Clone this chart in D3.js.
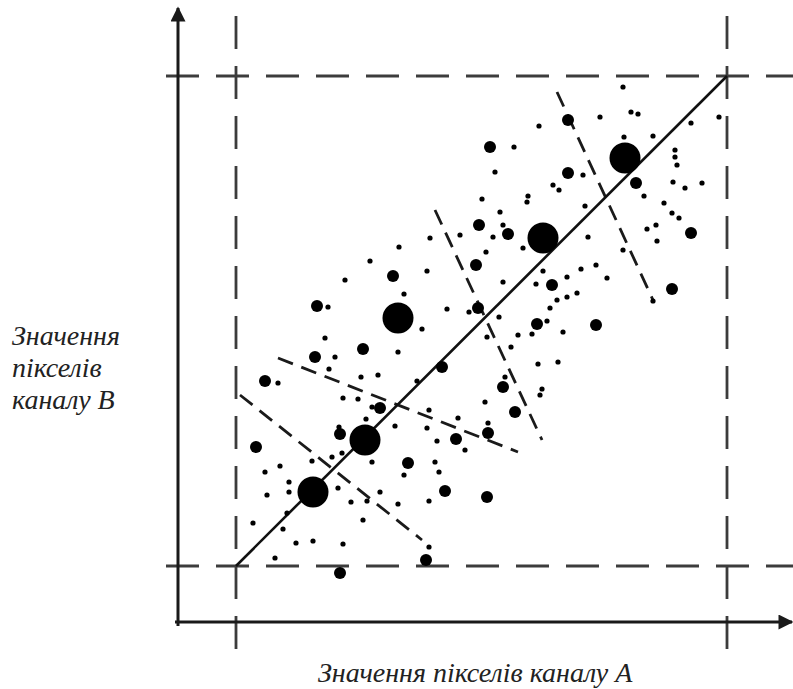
<!DOCTYPE html>
<html>
<head>
<meta charset="utf-8">
<script src="https://cdn.jsdelivr.net/npm/d3@7"></script>
<style>
  body { margin: 0; background: #fff; }
  svg { display: block; }
</style>
</head>
<body>
<script>
const WIDTH = 793;
const HEIGHT = 689;

// channel value range shown by the guide lines
const RANGE_A = [0, 491];
const RANGE_B = [0, 490];

// cluster centres (large dots)
const bigPoints = [[77,74],[129,126],[162,248],[307,328],[389,408]];

// medium dots
const midPoints = [
  [254,419],[243,341],[272,332],[240,301],[157,290],[81,260],[242,258],[332,446],
  [332,393],[400,383],[455,333],[316,281],[436,277],[127,217],[79,209],[206,199],
  [29,185],[267,179],[144,158],[279,154],[104,132],[252,133],[220,127],[20,119],
  [172,103],[209,75],[251,69],[190,6],[104,-7],[301,242],[360,241]
];

// small dots
const smallPoints = [
  [278,419],[259,394],[246,367],[291,364],[292,370],[264,354],[224,331],[257,329],
  [267,341],[194,328],[163,319],[287,318],[250,314],[134,305],[191,295],[109,286],
  [267,284],[168,272],[92,259],[211,257],[233,254],[387,479],[364,449],[303,440],
  [395,454],[402,452],[455,443],[483,449],[388,429],[417,430],[439,416],[439,409],
  [441,401],[347,391],[437,384],[449,378],[466,383],[317,381],[323,376],[408,370],
  [428,363],[349,360],[436,353],[443,348],[411,337],[420,341],[421,325],[352,329],
  [387,316],[360,301],[345,297],[307,295],[371,288],[331,289],[300,282],[341,273],
  [331,269],[321,266],[314,258],[417,265],[263,249],[186,237],[89,228],[162,214],
  [251,229],[282,231],[275,219],[99,209],[93,197],[125,189],[142,191],[42,183],
  [181,185],[311,245],[296,232],[327,234],[302,202],[322,204],[269,189],[306,177],
  [304,171],[107,168],[122,167],[249,164],[136,159],[193,156],[130,147],[222,148],
  [159,140],[103,139],[191,138],[252,143],[201,125],[229,116],[76,105],[96,109],
  [106,113],[136,104],[199,104],[29,94],[44,100],[168,91],[203,94],[53,84],
  [53,74],[102,78],[31,71],[144,74],[115,64],[131,65],[162,62],[193,65],
  [51,53],[17,43],[47,37],[127,46],[60,23],[77,25],[107,22],[193,19],[39,8]
];

// dashed separators between clusters: [x1, y1, x2, y2]
const separators = [
  [4,171,186,26],
  [42,208,282,114],
  [199,356,306,126],
  [321,474,417,266]
];

const yLabelLines = ["Значення", "пікселів", "каналу В"];
const xLabel = "Значення пікселів каналу А";

const FONT = "'Liberation Serif', 'Times New Roman', Tinos, 'DejaVu Serif', serif";

const x = d3.scaleLinear().domain(RANGE_A).range([236, 727]);
const y = d3.scaleLinear().domain(RANGE_B).range([566, 76]);

const AXIS_X = 178;   // pixel column of vertical axis
const AXIS_Y = 622;   // pixel row of horizontal axis

const svg = d3.select("body")
              .append("svg")
              .attr("width", WIDTH)
              .attr("height", HEIGHT);

svg.append("defs")
   .append("marker")
   .attr("id", "arrow")
   .attr("viewBox", "0 0 10 10")
   .attr("refX", 9)
   .attr("refY", 5)
   .attr("markerWidth", 6)
   .attr("markerHeight", 5)
   .attr("markerUnits", "strokeWidth")
   .attr("orient", "auto")
   .append("path")
   .attr("d", "M0,0 L10,5 L0,10 Z")
   .attr("fill", "#1a1a1a");

// guide dashed lines at range limits
const guides = svg.append("g")
                  .attr("stroke", "#3c3c3c")
                  .attr("stroke-width", 2.8)
                  .attr("stroke-dasharray", "33,17");

RANGE_A.forEach(v => {
  guides.append("line")
        .attr("x1", x(v)).attr("x2", x(v))
        .attr("y1", 16).attr("y2", 655);
});
RANGE_B.forEach(v => {
  guides.append("line")
        .attr("x1", 166).attr("x2", WIDTH)
        .attr("y1", y(v)).attr("y2", y(v));
});

// axes with arrows
svg.append("line")
   .attr("x1", AXIS_X).attr("y1", 626)
   .attr("x2", AXIS_X).attr("y2", 8)
   .attr("stroke", "#1a1a1a")
   .attr("stroke-width", 3)
   .attr("marker-end", "url(#arrow)");

svg.append("line")
   .attr("x1", 175).attr("y1", AXIS_Y)
   .attr("x2", 792).attr("y2", AXIS_Y)
   .attr("stroke", "#1a1a1a")
   .attr("stroke-width", 3)
   .attr("marker-end", "url(#arrow)");

// separators
svg.append("g")
   .selectAll("line")
   .data(separators)
   .join("line")
   .attr("x1", d => x(d[0])).attr("y1", d => y(d[1]))
   .attr("x2", d => x(d[2])).attr("y2", d => y(d[3]))
   .attr("stroke", "#1a1a1a")
   .attr("stroke-width", 2.8)
   .attr("stroke-dasharray", "16,9");

// identity line A = B
svg.append("line")
   .attr("x1", x(RANGE_A[0])).attr("y1", y(RANGE_B[0]))
   .attr("x2", x(RANGE_A[1])).attr("y2", y(RANGE_B[1]))
   .attr("stroke", "#111")
   .attr("stroke-width", 2.6);

const dots = svg.append("g").attr("fill", "#000");

const drawDots = (data, r) => {
  dots.append("g")
      .selectAll("circle")
      .data(data)
      .join("circle")
      .attr("cx", d => x(d[0]))
      .attr("cy", d => y(d[1]))
      .attr("r", r);
}

drawDots(smallPoints, 2.6);
drawDots(midPoints, 6);
drawDots(bigPoints, 15.5);

// labels
svg.append("text")
   .attr("font-family", FONT)
   .attr("font-style", "italic")
   .attr("font-size", 28)
   .attr("fill", "#222")
   .selectAll("tspan")
   .data(yLabelLines)
   .join("tspan")
   .attr("x", 12)
   .attr("y", (d, i) => 345 + i * 32)
   .text(d => d);

svg.append("text")
   .attr("font-family", FONT)
   .attr("font-style", "italic")
   .attr("font-size", 28)
   .attr("fill", "#222")
   .attr("x", 318)
   .attr("y", 682)
   .text(xLabel);
</script>
</body>
</html>
